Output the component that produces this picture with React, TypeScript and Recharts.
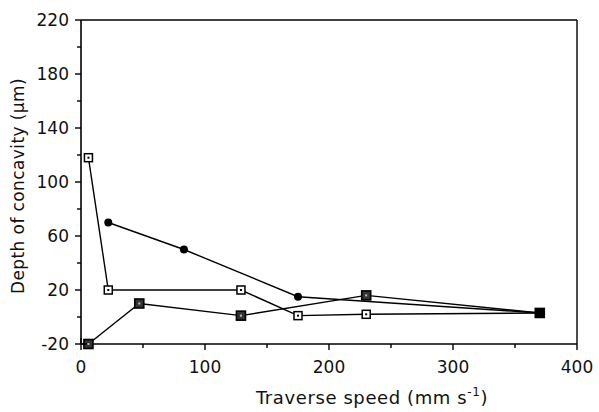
import React from 'react';
import { LineChart, Line, XAxis, YAxis, ReferenceLine, Label } from 'recharts';

// Traverse speed (mm/s) vs depth of concavity (um)
const roundSeries = [
  { speed: 22, depth: 70 },
  { speed: 83, depth: 50 },
  { speed: 175, depth: 15 },
  { speed: 370, depth: 3 },
];

const openSquareSeries = [
  { speed: 6, depth: 118 },
  { speed: 22, depth: 20 },
  { speed: 129, depth: 20 },
  { speed: 175, depth: 1 },
  { speed: 230, depth: 2 },
  { speed: 370, depth: 3 },
];

const solidSquareSeries = [
  { speed: 6, depth: -20 },
  { speed: 47, depth: 10 },
  { speed: 129, depth: 1 },
  { speed: 230, depth: 16 },
  { speed: 370, depth: 3 },
];

const xTicks = [0, 50, 100, 150, 200, 250, 300, 350, 400];
const yTicks = [-20, 0, 20, 40, 60, 80, 100, 120, 140, 160, 180, 200, 220];

const FONT = '"DejaVu Sans", sans-serif';

const XTick = (props: any) => {
  const { x, y, payload } = props;
  const major = payload.value % 100 === 0;
  return (
    <g>
      <line x1={x} x2={x} y1={payload.value === 0 ? y - 6 : y} y2={y + (major ? 6 : 4)} stroke="#000" strokeWidth={1.4} />
      {major && (
        <text x={x} y={y + 29} textAnchor="middle" fontSize={17} fontFamily={FONT} fill="#111">
          {payload.value}
        </text>
      )}
    </g>
  );
};

const YTick = (props: any) => {
  const { x, y, payload } = props;
  const major = (payload.value + 20) % 40 === 0;
  return (
    <g>
      <line x1={payload.value === -20 ? x + 6 : x} x2={x - (major ? 6 : 4)} y1={y} y2={y} stroke="#000" strokeWidth={1.4} />
      {major && (
        <text x={x - 12} y={y + 6} textAnchor="end" fontSize={17} fontFamily={FONT} fill="#111">
          {payload.value}
        </text>
      )}
    </g>
  );
};

const RoundDot = (props: any) => {
  const { cx, cy } = props;
  if (cx == null || cy == null) return null;
  return <circle cx={cx} cy={cy} r={4} fill="#000" />;
};

const OpenSquare = (props: any) => {
  const { cx, cy } = props;
  if (cx == null || cy == null) return null;
  return (
    <g>
      <rect x={cx - 4} y={cy - 4} width={8} height={8} fill="#fff" stroke="#000" strokeWidth={1.5} />
      <rect x={cx - 1} y={cy - 1} width={2} height={2} fill="#000" />
    </g>
  );
};

const SolidSquare = (props: any) => {
  const { cx, cy, index } = props;
  if (cx == null || cy == null) return null;
  const last = index === solidSquareSeries.length - 1;
  return (
    <g>
      <rect x={cx - 4.5} y={cy - 4.5} width={9} height={9} fill={last ? '#000' : '#333'} stroke="#000" strokeWidth={1.6} />
      {!last && <rect x={cx - 1} y={cy - 1} width={2} height={2} fill="#bbb" />}
    </g>
  );
};

const XLabel = () => (
  <text x={372} y={404} textAnchor="middle" fontSize={18} letterSpacing={0.6} fontFamily={FONT} fill="#111">
    Traverse speed (mm s
    <tspan dy={-8} fontSize={12}>-1</tspan>
    <tspan dy={8}>)</tspan>
  </text>
);

const YLabel = () => (
  <text
    x={24}
    y={186}
    textAnchor="middle"
    fontSize={17}
    letterSpacing={0.4}
    fontFamily={FONT}
    fill="#111"
    transform="rotate(-90, 24, 186)"
  >
    Depth of concavity (μm)
  </text>
);

export default function App() {
  return (
    <div style={{ position: 'absolute', left: 0, top: 0, background: '#fff' }}>
      <LineChart width={599} height={412} margin={{ top: 20, right: 22, left: 0, bottom: 0 }}>
        <XAxis
          type="number"
          dataKey="speed"
          domain={[0, 400]}
          ticks={xTicks}
          interval={0}
          height={68}
          tickSize={0}
          tickMargin={0}
          tick={<XTick />}
          axisLine={{ stroke: '#000', strokeWidth: 1.6 }}
          allowDuplicatedCategory={false}
        >
          <Label content={<XLabel />} />
        </XAxis>
        <YAxis
          type="number"
          dataKey="depth"
          domain={[-20, 220]}
          ticks={yTicks}
          interval={0}
          width={81}
          tickSize={0}
          tickMargin={0}
          tick={<YTick />}
          axisLine={{ stroke: '#000', strokeWidth: 1.6 }}
        >
          <Label content={<YLabel />} />
        </YAxis>
        <ReferenceLine y={220} stroke="#000" strokeWidth={1.6} />
        <ReferenceLine x={400} stroke="#000" strokeWidth={1.4} />
        <Line
          data={roundSeries}
          dataKey="depth"
          stroke="#000"
          strokeWidth={1.4}
          dot={<RoundDot />}
          isAnimationActive={false}
        />
        <Line
          data={openSquareSeries}
          dataKey="depth"
          stroke="#000"
          strokeWidth={1.4}
          dot={<OpenSquare />}
          isAnimationActive={false}
        />
        <Line
          data={solidSquareSeries}
          dataKey="depth"
          stroke="#000"
          strokeWidth={1.4}
          dot={<SolidSquare />}
          isAnimationActive={false}
        />
      </LineChart>
    </div>
  );
}
